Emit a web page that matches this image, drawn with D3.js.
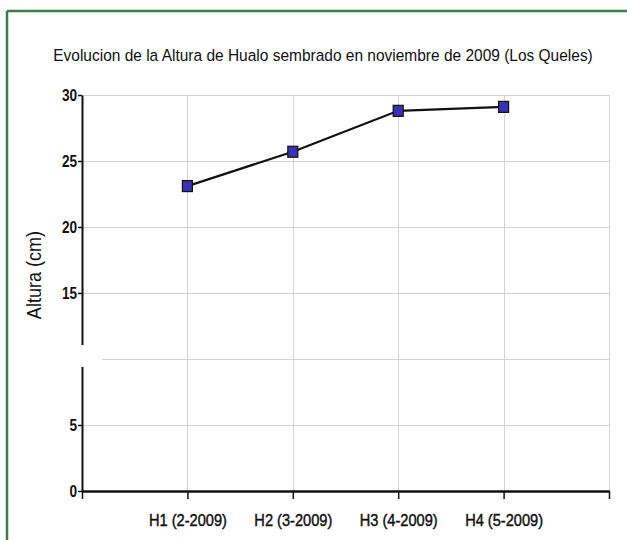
<!DOCTYPE html>
<html>
<head>
<meta charset="utf-8">
<script src="https://cdn.jsdelivr.net/npm/d3@7"></script>
<style>
  html, body { margin: 0; padding: 0; background: #fff; }
  svg { display: block; }
  .lbl { font-family: "Liberation Sans", Arial, sans-serif; }
</style>
</head>
<body>
<svg id="chart" width="627" height="540"></svg>
<script>
// Sampling dates (x categories) and mean plant height in cm
const categories = ["H1 (2-2009)", "H2 (3-2009)", "H3 (4-2009)", "H4 (5-2009)"];
const alturas = [23.1, 25.7, 28.8, 29.1];
const yTickValues = [0, 5, 15, 20, 25, 30];
const yGridValues = [0, 5, 10, 15, 20, 25, 30];
const titleText = "Evolucion de la Altura de Hualo sembrado en noviembre de 2009 (Los Queles)";
const yLabel = "Altura (cm)";

const svg = d3.select("#chart");
const W = 627, H = 540;
const plotLeft = 82, plotRight = 609, plotTop = 95, plotBottom = 491;

// Horizontally condense a text node (narrow-font look), anchored at its own x=0
function condense(sel, k) {
  sel.attr("transform", function () {
    const t = d3.select(this).attr("transform");
    return (t ? t + " " : "") + `scale(${k},1)`;
  });
}

// Green frame on top and left edges
svg.append("line").attr("x1", 7).attr("x2", W).attr("y1", 11).attr("y2", 11)
  .attr("stroke", "#3f7d4c").attr("stroke-width", 2.5);
svg.append("line").attr("x1", 7).attr("x2", 7).attr("y1", 11).attr("y2", H)
  .attr("stroke", "#3f7d4c").attr("stroke-width", 2.5);

const x = d3.scaleLinear().domain([0, categories.length + 1]).range([plotLeft, plotRight]);
const y = d3.scaleLinear().domain([0, 30]).range([plotBottom, plotTop]);

// Title
const titleG = svg.append("g").attr("transform", "translate(323,61)");
const title = titleG.append("text").attr("class", "lbl")
  .attr("text-anchor", "middle")
  .attr("font-size", 17)
  .attr("fill", "#111")
  .text(titleText);
condense(title, 540 / title.node().getComputedTextLength());

// Grid
const grid = svg.append("g").attr("stroke", "#d3d3d3").attr("stroke-width", 1);
grid.selectAll("line.h").data(yGridValues).join("line").attr("class", "h")
  .attr("x1", plotLeft).attr("x2", plotRight)
  .attr("y1", d => y(d) + 0.5).attr("y2", d => y(d) + 0.5);
grid.selectAll("line.v").data(d3.range(1, categories.length + 2)).join("line").attr("class", "v")
  .attr("x1", d => Math.round(x(d)) + 0.5).attr("x2", d => Math.round(x(d)) + 0.5)
  .attr("y1", plotTop).attr("y2", plotBottom);

// Y axis
const yAxis = svg.append("g").attr("class", "lbl")
  .attr("transform", `translate(${plotLeft},0)`)
  .call(d3.axisLeft(y).tickValues(yTickValues).tickSize(4).tickPadding(1).tickSizeOuter(0));
yAxis.select(".domain").attr("stroke", "#111").attr("stroke-width", 2);
yAxis.selectAll(".tick line").attr("stroke", "#111").attr("stroke-width", 1.5);
yAxis.selectAll(".tick text").attr("font-size", 16).attr("fill", "#111").attr("font-weight", "bold")
  .attr("x", -5 / 0.85);
condense(yAxis.selectAll(".tick text"), 0.85);

// Axis break around 10
svg.append("rect").attr("x", 60).attr("y", 345).attr("width", 42).attr("height", 22).attr("fill", "#fff");

// X axis
const xAxis = svg.append("g").attr("class", "lbl")
  .attr("transform", `translate(0,${plotBottom})`)
  .call(d3.axisBottom(x).tickValues(d3.range(0, categories.length + 2))
    .tickFormat(d => categories[d - 1] || "").tickSize(8).tickPadding(15).tickSizeOuter(0));
xAxis.select(".domain").attr("stroke", "#111").attr("stroke-width", 2.5);
xAxis.selectAll(".tick line").attr("stroke", "#111").attr("stroke-width", 1.5);
xAxis.selectAll(".tick text").attr("font-size", 17).attr("fill", "#111")
  .attr("stroke", "#111").attr("stroke-width", 0.45);
condense(xAxis.selectAll(".tick text"), 0.86);

// Y axis title
const yTitle = svg.append("text").attr("class", "lbl")
  .attr("transform", `translate(41,275) rotate(-90)`)
  .attr("text-anchor", "middle")
  .attr("font-size", 21)
  .attr("fill", "#111")
  .text(yLabel);
condense(yTitle, 0.86);

// Series line and markers
const line = d3.line().x((d, i) => x(i + 1)).y(d => y(d));
svg.append("path").datum(alturas).attr("d", line)
  .attr("fill", "none").attr("stroke", "#111").attr("stroke-width", 2.2);
svg.selectAll("rect.pt").data(alturas).join("rect").attr("class", "pt")
  .attr("x", (d, i) => x(i + 1) - 5).attr("y", d => y(d) - 5.5)
  .attr("width", 10).attr("height", 11)
  .attr("fill", "#3a2fb5").attr("stroke", "#111").attr("stroke-width", 1.2);
</script>
</body>
</html>
